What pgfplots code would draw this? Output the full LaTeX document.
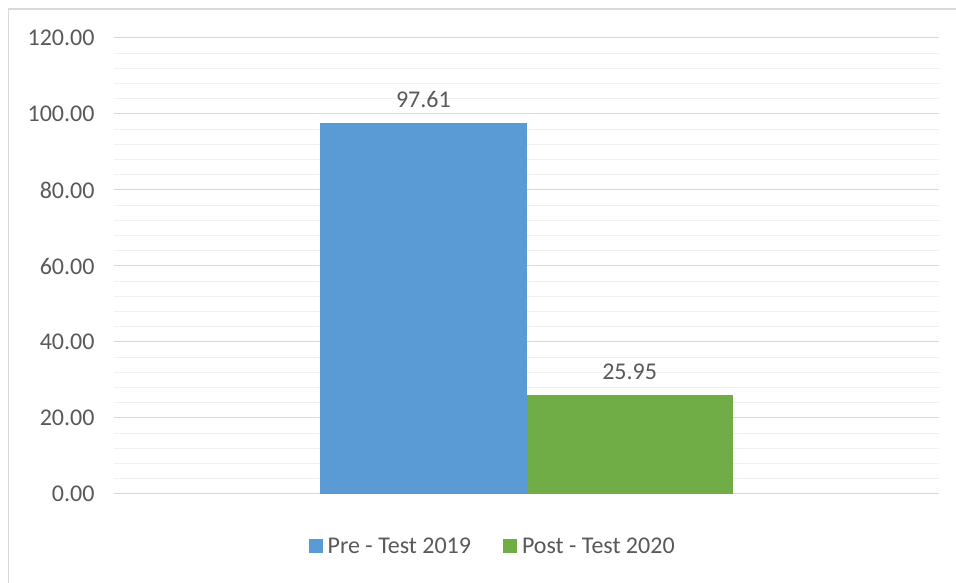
\documentclass[border=0pt]{standalone}
\usepackage{fontspec}
\setmainfont{Carlito}
\usepackage{pgfplots}
\pgfplotsset{compat=1.18}

\definecolor{preblue}{RGB}{91,155,213}
\definecolor{postgreen}{RGB}{112,173,71}
\definecolor{txtgray}{RGB}{89,89,89}
\definecolor{majgrid}{RGB}{217,217,217}
\definecolor{mingrid}{RGB}{240,240,240}

\begin{document}
\begin{tikzpicture}[x=1pt,y=1pt]
\useasboundingbox (0,0) rectangle (956,583);
% chart frame
\draw[majgrid, line width=1.5pt] (8.5,-10) rectangle (970,574);

\begin{axis}[
    at={(114pt,89pt)}, anchor=origin,
    scale only axis,
    width=825pt, height=456pt,
    xmin=0, xmax=2,
    ymin=0, ymax=120,
    ytick distance=20,
    minor y tick num=4,
    xtick=\empty,
    axis line style={draw=none},
    major tick length=0pt, minor tick length=0pt,
    ymajorgrids, yminorgrids,
    major grid style={majgrid, line width=1pt},
    minor grid style={mingrid, line width=1pt},
    /pgf/number format/assume math mode=true,
    /pgf/number format/.cd, fixed, zerofill, precision=2, /pgfplots/.cd,
    tick label style={font=\fontsize{24}{28}\selectfont, text=txtgray},
    yticklabel style={xshift=-16pt},
    ybar, bar shift=0pt, bar width=0.5,
    nodes near coords,
    every node near coord/.append style={font=\fontsize{24}{28}\selectfont, text=txtgray, yshift=12pt,
      /pgf/number format/.cd, fixed, zerofill, precision=2, assume math mode=true},
    legend columns=2,
    legend style={at={(0.459,-0.114)}, anchor=center, draw=none,
      font=\fontsize{24}{28}\selectfont, text=txtgray,
      /tikz/every even column/.append style={column sep=30pt},
      /tikz/every odd column/.append style={column sep=3pt}},
    legend image code/.code={\fill[#1] (0pt,-7pt) rectangle (14pt,7pt);},
]
\addplot[fill=preblue, draw=none] coordinates {(0.75,97.61)};
\addlegendentry{Pre - Test 2019}
\addplot[fill=postgreen, draw=none] coordinates {(1.25,25.95)};
\addlegendentry{Post - Test 2020}
\end{axis}
\end{tikzpicture}
\end{document}
